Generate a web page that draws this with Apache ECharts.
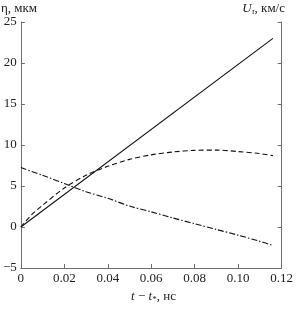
<!DOCTYPE html>
<html>
<head>
<meta charset="utf-8">
<script src="https://cdn.jsdelivr.net/npm/echarts@6/dist/echarts.min.js"></script>
<style>
  html, body { margin: 0; padding: 0; background: #fff; }
  #chart { width: 296px; height: 310px; }
</style>
</head>
<body>
<div id="chart"></div>
<script>
// t - t*, ns
const solidT = [0, 0.116]
const solidV = [0, 23]

const dashedT = [0, 0.005, 0.01, 0.02, 0.03, 0.04, 0.05, 0.06, 0.07, 0.08, 0.09, 0.10, 0.11, 0.116]
const dashedV = [0, 1.5, 2.65, 4.75, 6.3, 7.4, 8.25, 8.8, 9.15, 9.35, 9.38, 9.2, 8.95, 8.7]

const dashDotT = [0, 0.01, 0.02, 0.03, 0.04, 0.05, 0.06, 0.07, 0.08, 0.09, 0.10, 0.11, 0.116]
const dashDotV = [7.25, 6.3, 5.3, 4.3, 3.5, 2.55, 1.85, 1.1, 0.4, -0.3, -1.0, -1.75, -2.25]

const xTicks = { min: 0, max: 0.12, interval: 0.02 }
const yTicks = { min: -5, max: 25, interval: 5 }

const font = 'Liberation Serif'
const axisGrey = '#6e6e6e'

const pairs = (ts, vs) => ts.map((t, i) => [t, vs[i]])

const chart = echarts.init(document.getElementById('chart'), null, { renderer: 'canvas' })

const yAxisBase = {
  type: 'value',
  min: yTicks.min,
  max: yTicks.max,
  interval: yTicks.interval,
  splitLine: { show: false },
  axisLine: { show: true, lineStyle: { color: axisGrey, width: 1 } },
  axisTick: { show: true, inside: true, length: 4, lineStyle: { color: axisGrey } }
}

chart.setOption({
  animation: false,
  backgroundColor: '#fff',
  grid: { left: 18, right: 12, top: 22, bottom: 42, containLabel: false },
  xAxis: {
    type: 'value',
    min: xTicks.min,
    max: xTicks.max,
    interval: xTicks.interval,
    splitLine: { show: false },
    axisLine: { show: true, onZero: false, lineStyle: { color: axisGrey, width: 1 } },
    axisTick: { show: true, inside: true, length: 4, lineStyle: { color: axisGrey } },
    axisLabel: {
      color: '#222',
      fontFamily: font,
      fontSize: 13,
      margin: 4,
      formatter: v => (v === 0 ? '0' : v.toFixed(2))
    }
  },
  yAxis: [
    Object.assign({}, yAxisBase, {
      position: 'left',
      axisLabel: {
        color: '#222',
        fontFamily: font,
        fontSize: 13,
        margin: 4,
        formatter: v => String(v).replace('-', '\u2212')
      }
    }),
    Object.assign({}, yAxisBase, {
      position: 'right',
      axisLabel: { show: false }
    })
  ],
  graphic: [
    {
      type: 'text', left: 1, top: 2,
      style: { text: 'η, мкм', font: '13px "Liberation Serif"', fill: '#222' }
    },
    {
      type: 'text', right: 11, top: 2,
      style: {
        text: '{i|U}{s|τ}{n|, км/с}',
        fill: '#222',
        rich: {
          i: { fontFamily: font, fontSize: 13, fontStyle: 'italic' },
          s: { fontFamily: font, fontSize: 8, fontStyle: 'italic', padding: [6, 0, 0, 0] },
          n: { fontFamily: font, fontSize: 13 }
        }
      }
    },
    {
      type: 'text', left: 131, top: 290,
      style: {
        text: '{i|t} {n|−} {i|t}{s|*}{n|, нс}',
        fill: '#222',
        rich: {
          i: { fontFamily: font, fontSize: 13, fontStyle: 'italic' },
          s: { fontFamily: font, fontSize: 9, padding: [6, 0, 0, 0] },
          n: { fontFamily: font, fontSize: 13 }
        }
      }
    }
  ],
  series: [
    {
      type: 'line', data: pairs(solidT, solidV), showSymbol: false, smooth: false,
      lineStyle: { color: '#111', width: 1.1, type: 'solid' }
    },
    {
      type: 'line', data: pairs(dashedT, dashedV), showSymbol: false, smooth: 0.3,
      lineStyle: { color: '#111', width: 1.1, type: [5, 3] }
    },
    {
      type: 'line', data: pairs(dashDotT, dashDotV), showSymbol: false, smooth: 0.3,
      lineStyle: { color: '#111', width: 1.1, type: [6, 2, 1.5, 2] }
    }
  ]
})
</script>
</body>
</html>
